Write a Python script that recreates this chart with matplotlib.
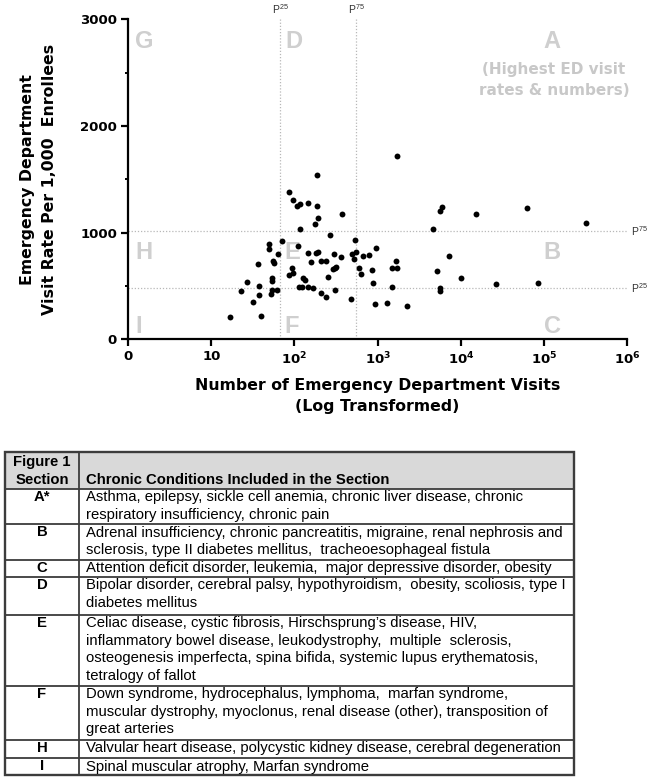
import matplotlib.pyplot as plt
from matplotlib.patches import Rectangle
from matplotlib.ticker import FixedLocator, NullLocator

plt.rcParams["font.family"] = ["Liberation Sans", "DejaVu Sans"]
plt.rcParams["mathtext.fontset"] = "custom"
plt.rcParams["mathtext.rm"] = "Liberation Sans"
plt.rcParams["mathtext.bf"] = "DejaVu Sans:bold"
plt.rcParams["mathtext.it"] = "Liberation Sans:italic"

# number of ED visits (log scale) and ED visit rate per 1,000 enrollees, one per condition
ed_visits = [185, 87, 97, 107, 117, 147, 185, 194, 177, 117, 49, 49, 70, 64, 110,
             147, 180, 194, 158, 55, 57, 36, 93, 86, 97, 53, 53, 27, 128, 134,
             23, 38, 53, 61, 52, 37, 32, 114, 122, 147, 166, 17, 40, 1698, 377,
             266, 535, 302, 363, 488, 550, 525, 673, 795, 964, 207, 238, 289, 308,
             316, 597, 631, 863, 1652, 1504, 1698, 256, 880, 308, 207, 238, 479,
             1504, 930, 1286, 2274, 5893, 5623, 15240, 62500, 317000, 4592, 7278,
             5220, 10140, 26500, 85300, 5623, 5623]
visit_rate = [1540, 1378, 1306, 1252, 1268, 1275, 1249, 1140, 1078, 1034, 890, 843,
              921, 797, 874, 812, 806, 815, 727, 734, 718, 703, 671, 603, 619, 572,
              549, 540, 572, 556, 455, 500, 462, 462, 425, 415, 352, 490, 490, 487,
              478, 209, 218, 1721, 1177, 980, 931, 802, 774, 802, 821, 753, 781,
              790, 858, 737, 737, 656, 668, 678, 668, 615, 647, 734, 665, 665, 587,
              525, 462, 434, 394, 378, 493, 331, 343, 315, 1243, 1202, 1174, 1233,
              1093, 1031, 781, 640, 574, 518, 525, 478, 455]

# percentile cut-offs
visits_p25, visits_p75 = 67, 550
rate_p25, rate_p75 = 484, 1015

x_ticks = [1, 10, 1e2, 1e3, 1e4, 1e5, 1e6]
x_tick_labels = ["0", "10", r"$\mathbf{10^{2}}$", r"$\mathbf{10^{3}}$",
                 r"$\mathbf{10^{4}}$", r"$\mathbf{10^{5}}$", r"$\mathbf{10^{6}}$"]
y_ticks = [0, 1000, 2000, 3000]
y_minor = [500, 1500, 2500]

sections = ["A*", "B", "C", "D", "E", "F", "H", "I"]
conditions = [
    "Asthma, epilepsy, sickle cell anemia, chronic liver disease, chronic\n"
    "respiratory insufficiency, chronic pain",
    "Adrenal insufficiency, chronic pancreatitis, migraine, renal nephrosis and\n"
    "sclerosis, type II diabetes mellitus,  tracheoesophageal fistula",
    "Attention deficit disorder, leukemia,  major depressive disorder, obesity",
    "Bipolar disorder, cerebral palsy, hypothyroidism,  obesity, scoliosis, type I\n"
    "diabetes mellitus",
    "Celiac disease, cystic fibrosis, Hirschsprung\u2019s disease, HIV,\n"
    "inflammatory bowel disease, leukodystrophy,  multiple  sclerosis,\n"
    "osteogenesis imperfecta, spina bifida, systemic lupus erythematosis,\n"
    "tetralogy of fallot",
    "Down syndrome, hydrocephalus, lymphoma,  marfan syndrome,\n"
    "muscular dystrophy, myoclonus, renal disease (other), transposition of\n"
    "great arteries",
    "Valvular heart disease, polycystic kidney disease, cerebral degeneration",
    "Spinal muscular atrophy, Marfan syndrome",
]

wide = ["DejaVu Sans"]  # wider bold face stands in for the letter-spaced axis text

fig = plt.figure(figsize=(6.5, 7.8), dpi=100)
ax = fig.add_axes([0.197, 0.565, 0.768, 0.4103])

ax.scatter(ed_visits, visit_rate, s=18, color="black", zorder=3, linewidths=0)

grid_kw = dict(color="#b8b8b8", linestyle=(0, (1, 1.5)), linewidth=0.9, zorder=1)
ax.axvline(visits_p25, **grid_kw)
ax.axvline(visits_p75, **grid_kw)
ax.axhline(rate_p25, **grid_kw)
ax.axhline(rate_p75, **grid_kw)

ax.set_xscale("log")
ax.set_xlim(1, 1e6)
ax.set_ylim(0, 3000)
ax.xaxis.set_major_locator(FixedLocator(x_ticks))
ax.xaxis.set_minor_locator(NullLocator())
ax.set_xticklabels(x_tick_labels)
ax.yaxis.set_major_locator(FixedLocator(y_ticks))
ax.yaxis.set_minor_locator(FixedLocator(y_minor))

for side in ["top", "right"]:
    ax.spines[side].set_visible(False)
for side in ["left", "bottom"]:
    ax.spines[side].set_linewidth(1.6)
ax.tick_params(which="major", length=5, width=1.6, labelsize=9.5, pad=3)
ax.tick_params(which="minor", length=2.5, width=1.4)
for lbl in ax.get_xticklabels() + ax.get_yticklabels():
    lbl.set_fontweight("bold")
    lbl.set_family(wide)

ax.set_xlabel("Number of Emergency Department Visits\n(Log Transformed)",
              fontsize=11.3, fontweight="bold", family=wide, linespacing=1.45,
              va="center")
ax.xaxis.set_label_coords(0.5, -0.177)
ax.set_ylabel("Emergency Department\nVisit Rate Per 1,000  Enrollees",
              fontsize=11.3, fontweight="bold", family=wide, linespacing=1.6,
              va="center")
ax.yaxis.set_label_coords(-0.179, 0.5)

# percentile markers
pk = dict(fontsize=7.5, color="#333333")
ax.text(visits_p25, 1.01, r"P$^{25}$", transform=ax.get_xaxis_transform(),
        ha="center", va="bottom", **pk)
ax.text(visits_p75, 1.01, r"P$^{75}$", transform=ax.get_xaxis_transform(),
        ha="center", va="bottom", **pk)
ax.text(1.008, rate_p75, r"P$^{75}$", transform=ax.get_yaxis_transform(),
        ha="left", va="center", **pk)
ax.text(1.008, rate_p25, r"P$^{25}$", transform=ax.get_yaxis_transform(),
        ha="left", va="center", **pk)

# section letters
lk = dict(fontsize=17, fontweight="bold", color="#cfcfcf", va="center",
          transform=ax.transAxes, zorder=0)
for letter, x, y, ha in [("G", 0.014, 0.929, "left"), ("D", 0.316, 0.929, "left"),
                         ("A", 0.85, 0.929, "center"), ("H", 0.014, 0.271, "left"),
                         ("E", 0.313, 0.271, "left"), ("B", 0.85, 0.271, "center"),
                         ("I", 0.014, 0.040, "left"), ("F", 0.314, 0.040, "left"),
                         ("C", 0.85, 0.040, "center")]:
    ax.text(x, y, letter, ha=ha, **lk)
ax.text(0.853, 0.81, "(Highest ED visit\nrates & numbers)", transform=ax.transAxes,
        ha="center", va="center", fontsize=11, fontweight="bold", family=wide,
        color="#c8c8c8", linespacing=1.45)

# table underneath, drawn in pixel coordinates
tb = fig.add_axes([0, 0, 1, 1], zorder=-1)
tb.set_xlim(0, 650)
tb.set_ylim(780, 0)
tb.axis("off")

left, right, split = 5, 574, 79
head_top, head_bot = 452.3, 489
row_px = [35.3, 35.7, 16.7, 38.3, 71, 54, 18.3, 16.7]
line_step = 17.6
fs = 10.7
edge = "#3c3c3c"

tb.add_patch(Rectangle((left, head_top), right - left, head_bot - head_top,
                       facecolor="#d9d9d9", edgecolor="none"))
tb.text((left + split) / 2, 462, "Figure 1", ha="center", va="center",
        fontsize=fs, fontweight="bold")
tb.text((left + split) / 2, 480, "Section", ha="center", va="center",
        fontsize=fs, fontweight="bold")
tb.text(86, 480, "Chronic Conditions Included in the Section", ha="left",
        va="center", fontsize=fs, fontweight="bold")

y = head_bot
tb.plot([left, right], [y, y], color=edge, lw=1.3)
for sec, cond, h in zip(sections, conditions, row_px):
    tb.text((left + split) / 2, y + 1.2, sec, ha="center", va="top",
            fontsize=fs, fontweight="bold")
    for i, line in enumerate(cond.split("\n")):
        tb.text(86, y + 1.2 + i * line_step, line, ha="left", va="top", fontsize=fs)
    y += h
    tb.plot([left, right], [y, y], color=edge, lw=1.3)

tb.plot([split, split], [head_top, y], color=edge, lw=1.3)
tb.add_patch(Rectangle((left, head_top), right - left, y - head_top,
                       facecolor="none", edgecolor=edge, lw=1.7))

fig.savefig("out.png", dpi=100)
